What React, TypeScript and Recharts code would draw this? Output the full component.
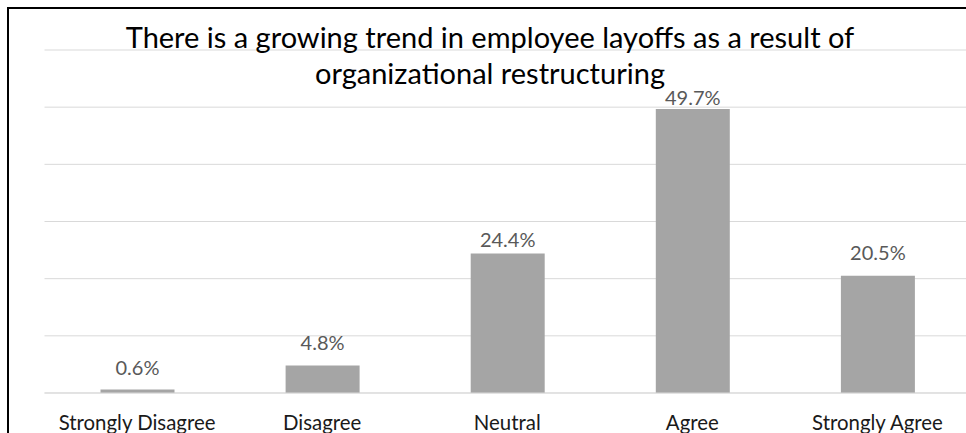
import React from 'react';
import { BarChart, Bar, XAxis, YAxis, CartesianGrid, LabelList } from 'recharts';

const categories = ['Strongly Disagree', 'Disagree', 'Neutral', 'Agree', 'Strongly Agree'];
const percentages = [0.6, 4.8, 24.4, 49.7, 20.5];
const yTicks = [0, 10, 20, 30, 40, 50, 60];
const titleLines = ['There is a growing trend in employee layoffs as a result of', 'organizational restructuring'];

// label gap above bar (style only)
const labelGaps = [15, 16, 7, 4, 16];

const data = categories.map((c, i) => ({ name: c, value: percentages[i] }));

const FONT = 'Lato, "Open Sans", sans-serif';

const CategoryTick = (props: any) => {
  const { x, y, payload } = props;
  return (
    <text x={x} y={y + 34.5} textAnchor="middle" fill="#1a1a1a" fontSize={20.4} fontFamily={FONT}>
      {payload.value}
    </text>
  );
};

const ValueLabel = (props: any) => {
  const { x, y, width, value, index } = props;
  const gap = labelGaps[index] ?? 7;
  return (
    <text x={Number(x) + Number(width) / 2} y={Number(y) - gap} textAnchor="middle" fill="#595959" fontSize={20} fontFamily={FONT}>
      {`${value}%`}
    </text>
  );
};

export default function App() {
  return (
    <div style={{ position: 'fixed', left: 0, top: 0, width: 966, height: 433, overflow: 'hidden', background: '#fff' }}>
      <div style={{ position: 'absolute', left: 7, top: 7, width: 1000, height: 500, borderLeft: '2px solid #000', borderTop: '2px solid #000', boxSizing: 'border-box' }} />
      <div style={{ position: 'absolute', left: 0, top: 0 }}>
        <BarChart width={980} height={433} data={data} margin={{ top: 50, right: 10, bottom: 0, left: 44.5 }} barCategoryGap={0}>
          <CartesianGrid horizontal vertical={false} stroke="#d9d9d9" strokeWidth={1} />
          <YAxis hide domain={[0, 60]} ticks={yTicks} type="number" />
          <XAxis dataKey="name" height={40} axisLine={{ stroke: '#d9d9d9' }} tickLine={false} tickSize={0} tick={<CategoryTick />} interval={0} />
          <Bar dataKey="value" fill="#a5a5a5" barSize={74} isAnimationActive={false}>
            <LabelList dataKey="value" content={<ValueLabel />} />
          </Bar>
          <text x={490} y={47.7} textAnchor="middle" fontSize={29} fontFamily={FONT} fill="#000">{titleLines[0]}</text>
          <text x={490} y={84.3} textAnchor="middle" fontSize={29} fontFamily={FONT} fill="#000">{titleLines[1]}</text>
        </BarChart>
      </div>
    </div>
  );
}
